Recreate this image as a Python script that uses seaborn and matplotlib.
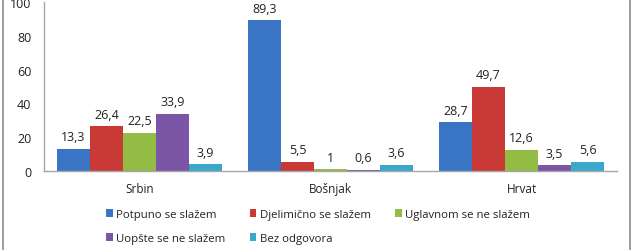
import matplotlib
matplotlib.use("Agg")
import matplotlib.pyplot as plt
import seaborn as sns
import pandas as pd
from matplotlib.patches import Rectangle, Patch

categories = ["Srbin", "Bošnjak", "Hrvat"]
series = ["Potpuno se slažem", "Djelimično se slažem", "Uglavnom se ne slažem",
          "Uopšte se ne slažem", "Bez odgovora"]
potpuno = [13.3, 89.3, 28.7]
djelimicno = [26.4, 5.5, 49.7]
uglavnom = [22.5, 1.0, 12.6]
uopste = [33.9, 0.6, 3.5]
bez = [3.9, 3.6, 5.6]
values = [potpuno, djelimicno, uglavnom, uopste, bez]
yticks = [0, 20, 40, 60, 80, 100]

colors = ["#3A74C4", "#C93A37", "#93BC45", "#7B55A6", "#3AA8CB"]

rows = []
for s, vals in zip(series, values):
    for c, v in zip(categories, vals):
        rows.append({"cat": c, "series": s, "val": v})
df = pd.DataFrame(rows)

sns.set_style("white")
plt.rcParams["font.family"] = ["Open Sans", "DejaVu Sans"]
FS = 9

fig = plt.figure(figsize=(6.33, 2.51), dpi=100)
ax = fig.add_axes([44 / 633, 79 / 251, (617 - 44) / 633, (172 - 3) / 251])

sns.barplot(data=df, x="cat", y="val", hue="series", order=categories,
            hue_order=series, palette=colors, width=0.864, ax=ax,
            saturation=1, legend=False, edgecolor="none", linewidth=0)

def fmt(v):
    s = ("%.1f" % v).rstrip("0").rstrip(".")
    return s.replace(".", ",")

for cont, vals in zip(ax.containers, values):
    ax.bar_label(cont, labels=[fmt(v) for v in vals], padding=4,
                 fontsize=FS, color="#222222")

ax.set_ylim(0, 100)
ax.set_xlim(-0.5, 2.5)
ax.set_yticks(yticks)
ax.set_yticklabels([str(t) for t in yticks])
ax.set_xlabel("")
ax.set_ylabel("")
ax.tick_params(axis="both", length=0, labelsize=FS, colors="#222222")
ax.tick_params(axis="x", labelsize=8.5, pad=8)
ax.tick_params(axis="y", pad=9)
for sp in ["top", "right"]:
    ax.spines[sp].set_visible(False)
for sp in ["left", "bottom"]:
    ax.spines[sp].set_color("#A6A6A6")
    ax.spines[sp].set_linewidth(1)

order = [0, 3, 1, 4, 2]
handles = [Patch(facecolor=colors[i], edgecolor="none") for i in order]
labels = [series[i] for i in order]
leg = fig.legend(handles, labels, ncol=3, loc="center",
                 bbox_to_anchor=(318 / 633, 1 - 227.5 / 251), frameon=False,
                 fontsize=8.2, handlelength=0.6, handleheight=0.65,
                 handletextpad=0.3, columnspacing=2.1, labelspacing=1.15)
for t in leg.get_texts():
    t.set_color("#222222")

fig.patches.append(Rectangle((2.5 / 633, -0.1), (630 - 2.5) / 633, 1.2,
                             transform=fig.transFigure, fill=False,
                             edgecolor="#8C8C8C", linewidth=1.2))

fig.savefig("out.png", dpi=100)
